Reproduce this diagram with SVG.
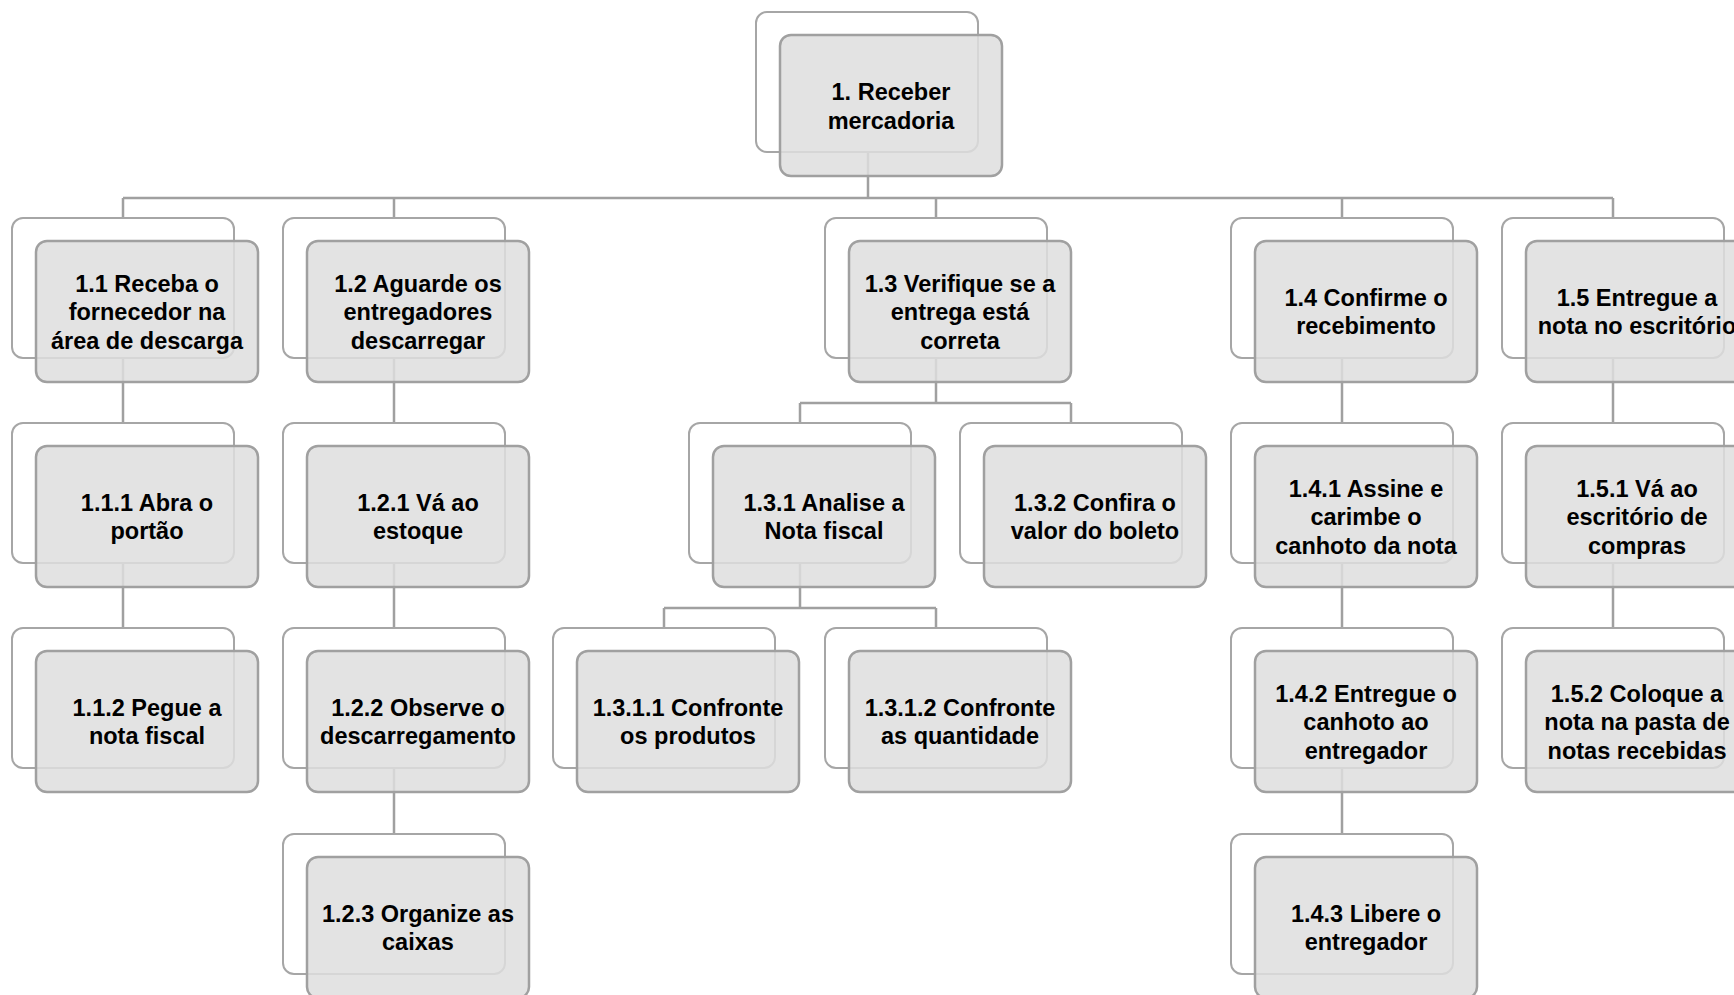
<svg xmlns="http://www.w3.org/2000/svg" width="1734" height="995" viewBox="0 0 1734 995">
<style>
.bk{fill:#ffffff;stroke:#a6a6a6;stroke-width:2}
.fr{fill:#dedede;fill-opacity:0.85;stroke:#a0a0a0;stroke-width:2.5}
.t{font-family:"Liberation Sans",Arial,sans-serif;font-weight:bold;font-size:23.5px;fill:#000;text-anchor:middle}
.c{fill:none;stroke:#a0a0a0;stroke-width:2.5}
</style>
<rect width="1734" height="995" fill="#ffffff"/>
<g id="connectors" class="c">
<path d="M868 152V198M123 198H1613M123 198V218M394 198V218M936 198V218M1342 198V218M1613 198V218"/>
<path d="M123 358V423M123 563V628"/>
<path d="M394 358V423M394 563V628M394 768V834"/>
<path d="M936 358V403M800 403H1071M800 403V423M1071 403V423"/>
<path d="M800 563V608M664 608H936M664 608V628M936 608V628"/>
<path d="M1342 358V423M1342 563V628M1342 768V834"/>
<path d="M1613 358V423M1613 563V628"/>
</g>
<g id="n1"><rect class="bk" x="756" y="12" width="222" height="140" rx="11"/><rect class="fr" x="780" y="35" width="222" height="141" rx="11"/><text class="t"><tspan x="891" y="100">1. Receber</tspan><tspan x="891" y="128.5">mercadoria</tspan></text></g>
<g id="n1_1"><rect class="bk" x="12" y="218" width="222" height="140" rx="11"/><rect class="fr" x="36" y="241" width="222" height="141" rx="11"/><text class="t"><tspan x="147" y="291.5">1.1 Receba o</tspan><tspan x="147" y="320">fornecedor na</tspan><tspan x="147" y="348.5">área de descarga</tspan></text></g>
<g id="n1_2"><rect class="bk" x="283" y="218" width="222" height="140" rx="11"/><rect class="fr" x="307" y="241" width="222" height="141" rx="11"/><text class="t"><tspan x="418" y="291.5">1.2 Aguarde os</tspan><tspan x="418" y="320">entregadores</tspan><tspan x="418" y="348.5">descarregar</tspan></text></g>
<g id="n1_3"><rect class="bk" x="825" y="218" width="222" height="140" rx="11"/><rect class="fr" x="849" y="241" width="222" height="141" rx="11"/><text class="t"><tspan x="960" y="291.5">1.3 Verifique se a</tspan><tspan x="960" y="320">entrega está</tspan><tspan x="960" y="348.5">correta</tspan></text></g>
<g id="n1_4"><rect class="bk" x="1231" y="218" width="222" height="140" rx="11"/><rect class="fr" x="1255" y="241" width="222" height="141" rx="11"/><text class="t"><tspan x="1366" y="305.75">1.4 Confirme o</tspan><tspan x="1366" y="334.25">recebimento</tspan></text></g>
<g id="n1_5"><rect class="bk" x="1502" y="218" width="222" height="140" rx="11"/><rect class="fr" x="1526" y="241" width="222" height="141" rx="11"/><text class="t"><tspan x="1637" y="305.75">1.5 Entregue a</tspan><tspan x="1637" y="334.25">nota no escritório</tspan></text></g>
<g id="n1_1_1"><rect class="bk" x="12" y="423" width="222" height="140" rx="11"/><rect class="fr" x="36" y="446" width="222" height="141" rx="11"/><text class="t"><tspan x="147" y="510.75">1.1.1 Abra o</tspan><tspan x="147" y="539.25">portão</tspan></text></g>
<g id="n1_1_2"><rect class="bk" x="12" y="628" width="222" height="140" rx="11"/><rect class="fr" x="36" y="651" width="222" height="141" rx="11"/><text class="t"><tspan x="147" y="715.75">1.1.2 Pegue a</tspan><tspan x="147" y="744.25">nota fiscal</tspan></text></g>
<g id="n1_2_1"><rect class="bk" x="283" y="423" width="222" height="140" rx="11"/><rect class="fr" x="307" y="446" width="222" height="141" rx="11"/><text class="t"><tspan x="418" y="510.75">1.2.1 Vá ao</tspan><tspan x="418" y="539.25">estoque</tspan></text></g>
<g id="n1_2_2"><rect class="bk" x="283" y="628" width="222" height="140" rx="11"/><rect class="fr" x="307" y="651" width="222" height="141" rx="11"/><text class="t"><tspan x="418" y="715.75">1.2.2 Observe o</tspan><tspan x="418" y="744.25">descarregamento</tspan></text></g>
<g id="n1_2_3"><rect class="bk" x="283" y="834" width="222" height="140" rx="11"/><rect class="fr" x="307" y="857" width="222" height="141" rx="11"/><text class="t"><tspan x="418" y="921.75">1.2.3 Organize as</tspan><tspan x="418" y="950.25">caixas</tspan></text></g>
<g id="n1_3_1"><rect class="bk" x="689" y="423" width="222" height="140" rx="11"/><rect class="fr" x="713" y="446" width="222" height="141" rx="11"/><text class="t"><tspan x="824" y="510.75">1.3.1 Analise a</tspan><tspan x="824" y="539.25">Nota fiscal</tspan></text></g>
<g id="n1_3_2"><rect class="bk" x="960" y="423" width="222" height="140" rx="11"/><rect class="fr" x="984" y="446" width="222" height="141" rx="11"/><text class="t"><tspan x="1095" y="510.75">1.3.2 Confira o</tspan><tspan x="1095" y="539.25">valor do boleto</tspan></text></g>
<g id="n1_3_1_1"><rect class="bk" x="553" y="628" width="222" height="140" rx="11"/><rect class="fr" x="577" y="651" width="222" height="141" rx="11"/><text class="t"><tspan x="688" y="715.75">1.3.1.1 Confronte</tspan><tspan x="688" y="744.25">os produtos</tspan></text></g>
<g id="n1_3_1_2"><rect class="bk" x="825" y="628" width="222" height="140" rx="11"/><rect class="fr" x="849" y="651" width="222" height="141" rx="11"/><text class="t"><tspan x="960" y="715.75">1.3.1.2 Confronte</tspan><tspan x="960" y="744.25">as quantidade</tspan></text></g>
<g id="n1_4_1"><rect class="bk" x="1231" y="423" width="222" height="140" rx="11"/><rect class="fr" x="1255" y="446" width="222" height="141" rx="11"/><text class="t"><tspan x="1366" y="496.5">1.4.1 Assine e</tspan><tspan x="1366" y="525">carimbe o</tspan><tspan x="1366" y="553.5">canhoto da nota</tspan></text></g>
<g id="n1_4_2"><rect class="bk" x="1231" y="628" width="222" height="140" rx="11"/><rect class="fr" x="1255" y="651" width="222" height="141" rx="11"/><text class="t"><tspan x="1366" y="701.5">1.4.2 Entregue o</tspan><tspan x="1366" y="730">canhoto ao</tspan><tspan x="1366" y="758.5">entregador</tspan></text></g>
<g id="n1_4_3"><rect class="bk" x="1231" y="834" width="222" height="140" rx="11"/><rect class="fr" x="1255" y="857" width="222" height="141" rx="11"/><text class="t"><tspan x="1366" y="921.75">1.4.3 Libere o</tspan><tspan x="1366" y="950.25">entregador</tspan></text></g>
<g id="n1_5_1"><rect class="bk" x="1502" y="423" width="222" height="140" rx="11"/><rect class="fr" x="1526" y="446" width="222" height="141" rx="11"/><text class="t"><tspan x="1637" y="496.5">1.5.1 Vá ao</tspan><tspan x="1637" y="525">escritório de</tspan><tspan x="1637" y="553.5">compras</tspan></text></g>
<g id="n1_5_2"><rect class="bk" x="1502" y="628" width="222" height="140" rx="11"/><rect class="fr" x="1526" y="651" width="222" height="141" rx="11"/><text class="t"><tspan x="1637" y="701.5">1.5.2 Coloque a</tspan><tspan x="1637" y="730">nota na pasta de</tspan><tspan x="1637" y="758.5">notas recebidas</tspan></text></g>
</svg>
